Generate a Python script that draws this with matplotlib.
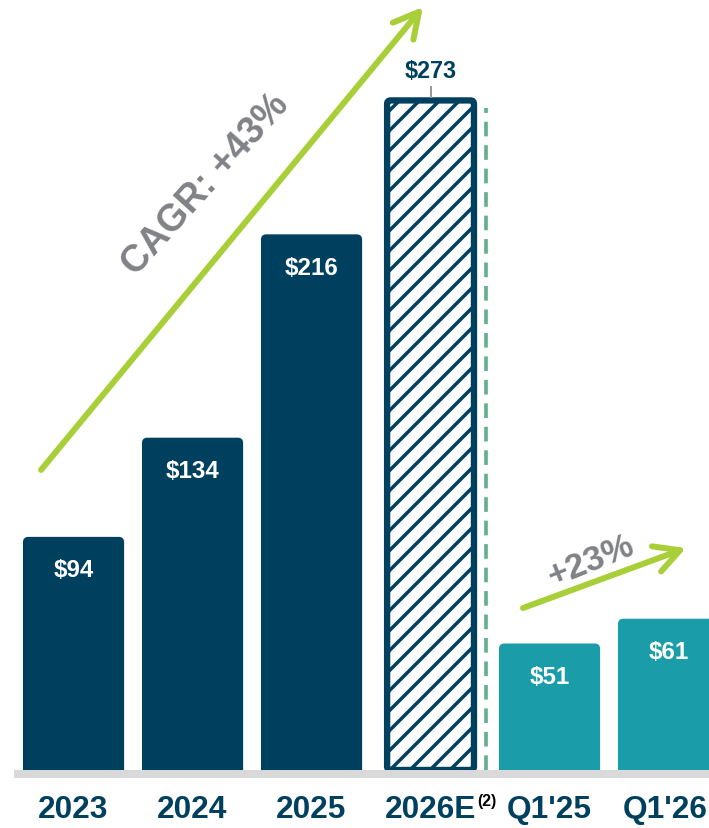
import matplotlib
matplotlib.use('Agg')
import matplotlib.pyplot as plt
from matplotlib.patches import FancyBboxPatch, FancyArrowPatch, Rectangle

# == data ======================================================================
labels  = ['2023', '2024', '2025', '2026E', "Q1'25", "Q1'26"]
values  = [94, 134, 216, 273, 51, 61]
kinds   = ['actual', 'actual', 'actual', 'estimate', 'quarter', 'quarter']
cagr_text = 'CAGR: +43%'
qoq_text  = '+23%'
# =============================================================================

NAVY  = '#00405F'
TEAL  = '#1A9CA9'
GREEN = '#A9CF38'
GRAY  = '#808285'
DASH  = '#62B08E'

plt.rcParams['font.family'] = ['Liberation Sans', 'DejaVu Sans']
plt.rcParams['hatch.linewidth'] = 2.1
plt.rcParams['hatch.color'] = NAVY

DPI = 120
fig = plt.figure(figsize=(709 / DPI, 828 / DPI), dpi=DPI)
ax = fig.add_axes([0, 0, 1, 1])
ax.set_xlim(-0.618, 5.34)
ax.set_ylim(-23.4, 310.5)
ax.axis('off')

aspect = 119 / 2.48
for i, (v, k) in enumerate(zip(values, kinds)):
    if k == 'estimate':
        w = 0.73
        top = v - 3
        p = FancyBboxPatch((i - w / 2, 0), w, top,
                           boxstyle='round,pad=0,rounding_size=0.03',
                           mutation_aspect=aspect,
                           facecolor='white', edgecolor=NAVY, linewidth=3.8,
                           hatch='//', zorder=2)
        ax.add_patch(p)
        ax.plot([i, i], [top + 1.5, top + 5.5], color='#9A9A9A', lw=1.2, zorder=2)
        ax.text(i, top + 11.5, f'${v}', ha='center', va='center',
                fontsize=14, fontweight='bold', color=NAVY)
    else:
        w = 0.85
        col = NAVY if k == 'actual' else TEAL
        p = FancyBboxPatch((i - w / 2, -3), w, v + 3,
                           boxstyle='round,pad=0,rounding_size=0.045',
                           mutation_aspect=aspect,
                           facecolor=col, edgecolor='none', zorder=2)
        ax.add_patch(p)
        ax.text(i, v - 13.6, f'${v}', ha='center', va='center',
                fontsize=14.5, fontweight='bold', color='white', zorder=4)

# baseline band
ax.add_patch(Rectangle((-0.5, -3.2), 6.0, 3.2, facecolor='#D9D9D9',
                       edgecolor='none', zorder=3))

# dashed separator
ax.vlines(3.466, 0, values[3] - 6, colors=DASH, lw=2.2,
          linestyles=(0, (4.0, 2.4)), zorder=2)

# x labels
for i, lab in enumerate(labels):
    x = i - 0.03 if i == len(labels) - 1 else i
    ax.text(x, -16.1, lab, ha='center', va='center', fontsize=19,
            fontweight='bold', color=NAVY)
ax.text(3.475, -12.9, '(2)', ha='center', va='center', fontsize=9.5,
        fontweight='bold', color='black')

# growth arrows
for (p0, p1) in [((-0.273, 121), (2.937, 307.7)), ((3.777, 65.3), (5.147, 89.5))]:
    arr = FancyArrowPatch(p0, p1, arrowstyle='->,head_length=15,head_width=8',
                          mutation_scale=1, color=GREEN, lw=3.6,
                          capstyle='round', joinstyle='round',
                          shrinkA=0, shrinkB=0, zorder=5)
    ax.add_patch(arr)

ax.text(1.11, 236, cagr_text, rotation=48, ha='center', va='center',
        rotation_mode='anchor', fontsize=22.5, fontweight='bold', color=GRAY)
ax.text(4.35, 84.0, qoq_text, rotation=22, ha='center', va='center',
        rotation_mode='anchor', fontsize=21, fontweight='bold', color=GRAY)

plt.savefig('out.png', dpi=DPI)
